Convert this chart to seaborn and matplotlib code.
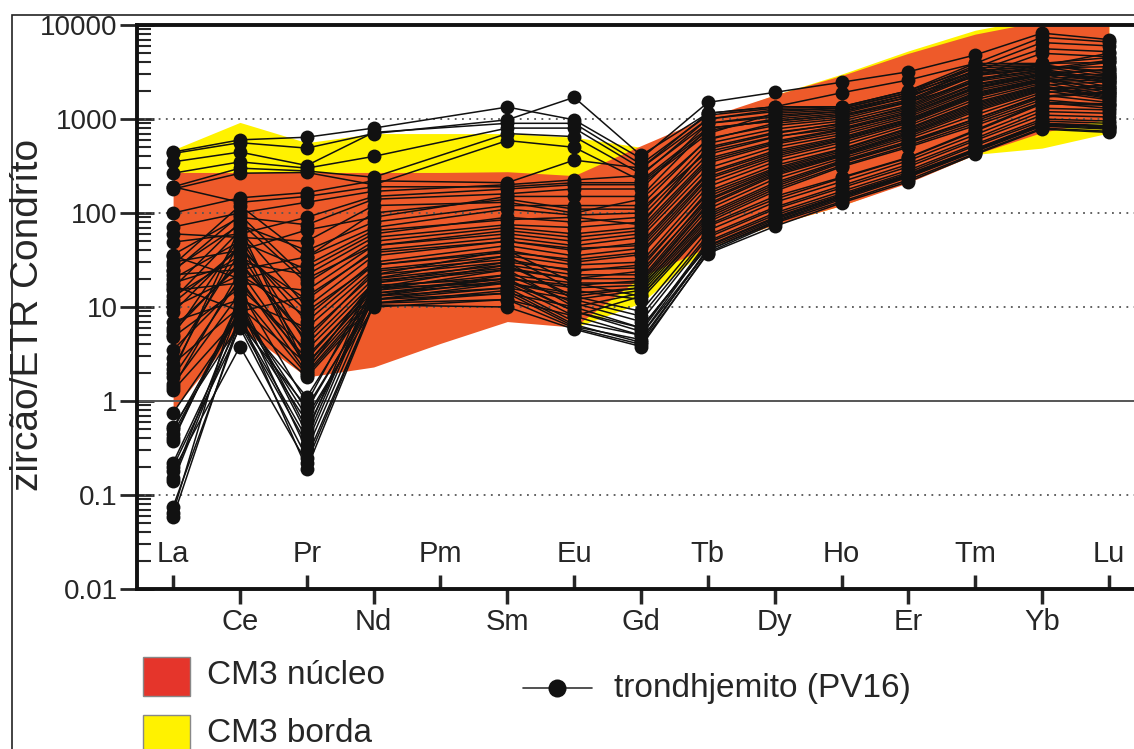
import numpy as np
import pandas as pd
import matplotlib
matplotlib.use('Agg')
import matplotlib.pyplot as plt
import seaborn as sns
from matplotlib.patches import Rectangle
from matplotlib.lines import Line2D

# REE order on the x axis (Pm has no analyses)
elements = ['La', 'Ce', 'Pr', 'Nd', 'Pm', 'Sm', 'Eu', 'Gd', 'Tb', 'Dy', 'Ho', 'Er', 'Tm', 'Yb', 'Lu']
measured = [e for e in elements if e != 'Pm']

# zircon / chondrite, trondhjemito (PV16) spots, columns = measured (La..Lu without Pm)
spots_high_lree = [
    [445, 600, 640, 800, 1340, 980, 380, 1500, 1920, 2460, 3180, 4800, 8200, 7000],
    [430, 560, 490, 700, 980, 1700, 410, 1150, 1350, 1900, 2600, 3900, 7400, 6600],
    [350, 445, 320, 720, 900, 900, 330, 1100, 1300, 1350, 2000, 3500, 6500, 6000],
    [265, 350, 300, 400, 800, 800, 300, 1000, 1200, 1300, 1900, 3200, 5600, 5200],
    [190, 300, 280, 240, 700, 650, 260, 900, 1100, 1200, 1800, 2800, 5000, 4600],
    [180, 265, 270, 200, 590, 500, 220, 800, 950, 1100, 1500, 2500, 3900, 4000],
]
spots_mid = [
    [100, 145, 165, 220, 210, 365, 300, 1150, 1350, 1350, 2000, 3900, 3900, 4500],
    [71, 100, 130, 170, 200, 225, 250, 1000, 1250, 1300, 1900, 3700, 3800, 3000],
    [49, 60, 90, 150, 180, 200, 200, 700, 1150, 1250, 1800, 3500, 3700, 5000],
    [36, 90, 75, 140, 160, 180, 180, 900, 1050, 1200, 1700, 3300, 3600, 2800],
    [30, 40, 66, 90, 150, 150, 150, 800, 950, 1100, 1600, 3100, 3500, 3600],
    [25, 75, 40, 80, 120, 120, 120, 620, 850, 1000, 1500, 2900, 3400, 2600],
    [22, 25, 34, 70, 110, 95, 100, 550, 780, 950, 1400, 2700, 3300, 4000],
    [20, 50, 25, 60, 90, 80, 90, 480, 700, 900, 1300, 2500, 3200, 2400],
    [18, 30, 22, 55, 75, 70, 80, 420, 640, 850, 1250, 2350, 3100, 3300],
    [16, 80, 18, 50, 70, 60, 70, 380, 580, 780, 1150, 2200, 3000, 2200],
    [15, 18, 15, 45, 60, 50, 60, 340, 540, 720, 1100, 2100, 2900, 3000],
    [13, 35, 12, 40, 55, 45, 55, 300, 500, 680, 1050, 2000, 2800, 2000],
    [12, 65, 10, 35, 50, 40, 48, 270, 460, 640, 1000, 1900, 2700, 2900],
    [10, 22, 8, 30, 45, 35, 42, 240, 420, 600, 950, 1800, 2600, 1900],
    [8.8, 45, 7, 28, 40, 30, 36, 210, 380, 560, 900, 1700, 2500, 2600],
    [7, 12, 6, 25, 35, 28, 30, 190, 350, 520, 850, 1600, 2400, 1800],
    [6, 28, 5, 22, 30, 25, 26, 170, 320, 480, 800, 1500, 2300, 2500],
    [5, 55, 4, 20, 28, 22, 22, 150, 290, 450, 750, 1400, 2200, 1700],
    [4.8, 16, 3.5, 18, 25, 20, 20, 135, 270, 420, 700, 1300, 2100, 2300],
    [2.9, 38, 3, 16, 22, 18, 18, 120, 250, 400, 650, 1200, 2000, 1600],
    [2.5, 10, 2.5, 15, 20, 16, 17, 110, 230, 380, 620, 1100, 1900, 2100],
    [2, 70, 2.2, 14, 18, 14, 16, 100, 210, 360, 580, 1000, 1800, 1500],
    [1.8, 20, 2, 13, 16, 12, 15, 90, 190, 340, 550, 950, 1700, 1900],
    [1.5, 14, 1.9, 12, 14, 10, 14, 85, 180, 320, 520, 900, 1600, 1400],
    [1.3, 8, 1.8, 11, 12, 8, 13, 80, 170, 310, 500, 850, 1500, 1300],
    [28, 120, 34, 100, 140, 110, 110, 450, 650, 800, 1200, 2300, 3000, 2700],
    [190, 130, 150, 190, 190, 210, 210, 750, 1000, 1150, 1700, 3200, 3700, 3200],
    [60, 55, 50, 120, 130, 100, 140, 600, 900, 1050, 1550, 3000, 3400, 4200],
    [35, 20, 28, 65, 85, 90, 75, 500, 720, 880, 1350, 2600, 3300, 2500],
    [24, 95, 20, 45, 65, 55, 65, 360, 560, 760, 1150, 2150, 2950, 3400],
    [17, 9, 13, 38, 50, 42, 45, 260, 440, 620, 980, 1850, 2650, 2100],
    [11, 42, 9, 28, 38, 32, 38, 230, 400, 590, 930, 1750, 2550, 2800],
    [5.5, 30, 4.5, 24, 32, 24, 28, 160, 300, 470, 780, 1450, 2250, 1750],
    [3.5, 18, 2.8, 17, 20, 17, 19, 125, 260, 410, 680, 1250, 2050, 2200],
    [2.2, 50, 2.1, 19, 26, 20, 24, 140, 280, 430, 720, 1350, 2150, 1650],
    [1.4, 24, 2.4, 16, 18, 13, 16, 95, 200, 350, 560, 1000, 1750, 1950],
]
spots_low_la = [
    [0.75, 8, 1.1, 15, 25, 10, 6, 45, 90, 155, 260, 480, 900, 850],
    [0.53, 6.7, 0.86, 12, 18, 8, 5, 40, 82, 145, 245, 460, 860, 800],
    [0.45, 9, 0.68, 10, 12, 6, 4, 37, 72, 128, 215, 420, 780, 720],
    [0.38, 12, 0.5, 14, 20, 9, 5.5, 50, 100, 170, 285, 540, 1000, 950],
    [0.22, 7, 0.4, 18, 30, 12, 8, 58, 115, 195, 330, 620, 1200, 1150],
    [0.18, 3.8, 0.22, 11, 15, 6.5, 4.2, 42, 85, 150, 250, 470, 880, 820],
    [0.15, 10, 0.3, 13, 22, 11, 7, 55, 110, 185, 310, 590, 1100, 1050],
    [0.14, 8, 0.19, 10.5, 10, 5.8, 3.8, 38, 78, 132, 225, 430, 800, 740],
    [0.075, 6.5, 0.35, 16, 28, 13, 9, 65, 130, 215, 360, 680, 1300, 1250],
    [0.065, 15, 0.95, 20, 35, 15, 12, 72, 140, 235, 385, 740, 1450, 1400],
    [0.058, 7.5, 0.6, 12, 16, 7, 5, 48, 95, 160, 270, 520, 950, 900],
    [0.4, 11, 0.45, 22, 40, 18, 13, 75, 150, 240, 390, 760, 1500, 1450],
    [0.5, 9.5, 0.8, 13, 19, 9, 6, 44, 88, 150, 255, 475, 890, 840],
    [0.2, 6, 0.25, 11, 14, 6.2, 4.5, 40, 80, 140, 240, 450, 840, 780],
]

# CM3 reference fields, envelope on all 15 positions
nucleo_upper = [270, 270, 270, 270, 270, 275, 250, 520, 1050, 1800, 2900, 5000, 8000, 11000, 11000]
nucleo_lower = [0.8, 6, 1.8, 2.3, 4.1, 7, 6.1, 21, 43, 75, 120, 210, 420, 720, 1000]
borda_upper = [470, 920, 560, 700, 700, 700, 640, 500, 1000, 1800, 3000, 5300, 8800, 12000, 12000]
borda_lower = [270, 270, 270, 270, 270, 270, 6, 11, 43, 75, 120, 215, 420, 490, 710]

pos = {e: i for i, e in enumerate(elements)}
records = []
spot_id = 0
for group in (spots_high_lree, spots_mid, spots_low_la):
    for row in group:
        for el, val in zip(measured, row):
            records.append({'spot': spot_id, 'element': el, 'x': pos[el], 'value': val})
        spot_id += 1
df = pd.DataFrame(records)

sns.set_style('ticks')
plt.rcParams['font.family'] = ['Liberation Sans', 'DejaVu Sans']

W, H = 1134, 749
fig = plt.figure(figsize=(W / 100, H / 100), dpi=100)


def fx(px):
    return px / W


def fy(py):
    return 1 - py / H


ax = fig.add_axes([fx(137), fy(589), 1.002 - fx(137), fy(25) - fy(589)])
ax.set_yscale('log')
ax.set_ylim(0.01, 10000)
ax.set_xlim(-0.54, 14.41)

xs = np.arange(len(elements))
ax.fill_between(xs, borda_lower, borda_upper, color='#FFF200', lw=0, zorder=1)
ax.fill_between(xs, nucleo_lower, nucleo_upper, color='#EE5A2A', lw=0, zorder=2)

for v in [0.1, 10, 100, 1000]:
    ax.axhline(v, color='#555555', lw=1.3, ls=(0, (1, 3)), zorder=2.5)
ax.axhline(1, color='#555555', lw=1.4, zorder=2.5)

sns.lineplot(data=df, x='x', y='value', units='spot', estimator=None, sort=False,
             color='#111111', lw=1.1, marker='o', markersize=10, markeredgewidth=0,
             legend=False, ax=ax, zorder=4)

# y axis
ax.set_yticks([0.01, 0.1, 1, 10, 100, 1000, 10000],
              labels=['0.01', '0.1', '1', '10', '100', '1000', '10000'])
ax.yaxis.set_minor_locator(matplotlib.ticker.LogLocator(base=10, subs=np.arange(2, 10)))
ax.yaxis.set_minor_formatter(matplotlib.ticker.NullFormatter())
ax.tick_params(axis='y', which='major', direction='inout', length=24, width=2, labelsize=20, pad=2)
ax.tick_params(axis='y', which='minor', direction='in', length=10, width=1.5)

# x axis: alternate labels below / above the axis
below = [i for i in range(len(elements)) if i % 2 == 1]
above = [i for i in range(len(elements)) if i % 2 == 0]
ax.set_xticks(below, labels=[elements[i] for i in below])
ax.set_xticks(above, labels=[elements[i] for i in above], minor=True)
ax.tick_params(axis='x', which='major', direction='out', length=11, width=2.5, labelsize=21, pad=3)
ax.tick_params(axis='x', which='minor', direction='in', length=10, width=2.5, labelsize=21, pad=-35)
ax.set_xlabel('')
ax.set_ylabel('')

for side in ['left', 'bottom', 'top']:
    ax.spines[side].set_linewidth(2.8)
    ax.spines[side].set_color('#111111')
ax.spines['right'].set_visible(False)

fig.text(fx(28), fy(315), 'zircão/ETR Condríto', rotation=90, ha='center', va='center', fontsize=28)

# legend, drawn by hand below the axes
fig.add_artist(Rectangle((fx(143), fy(696)), fx(190) - fx(143), fy(657) - fy(696),
                         transform=fig.transFigure, facecolor='#E5352B', edgecolor='#888888', lw=1))
fig.add_artist(Rectangle((fx(143), fy(760)), fx(190) - fx(143), fy(715) - fy(760),
                         transform=fig.transFigure, facecolor='#FFF200', edgecolor='#888888', lw=1))
fig.text(fx(207), fy(676), 'CM3 núcleo', ha='left', va='center', fontsize=24)
fig.text(fx(207), fy(733), 'CM3 borda', ha='left', va='center', fontsize=24)
fig.add_artist(Line2D([fx(523), fx(592)], [fy(688), fy(688)], transform=fig.transFigure,
                      color='#333333', lw=1.2))
fig.add_artist(Line2D([fx(557)], [fy(688)], transform=fig.transFigure, marker='o',
                      markersize=13, color='#111111', markeredgewidth=0))
fig.text(fx(614), fy(688), 'trondhjemito (PV16)', ha='left', va='center', fontsize=24)

# thin frame of the original figure panel
fig.add_artist(Rectangle((fx(12), -0.5), 2, fy(15) + 0.5, transform=fig.transFigure,
                         fill=False, edgecolor='#222222', lw=1.2))

fig.savefig('out.png', dpi=100)
